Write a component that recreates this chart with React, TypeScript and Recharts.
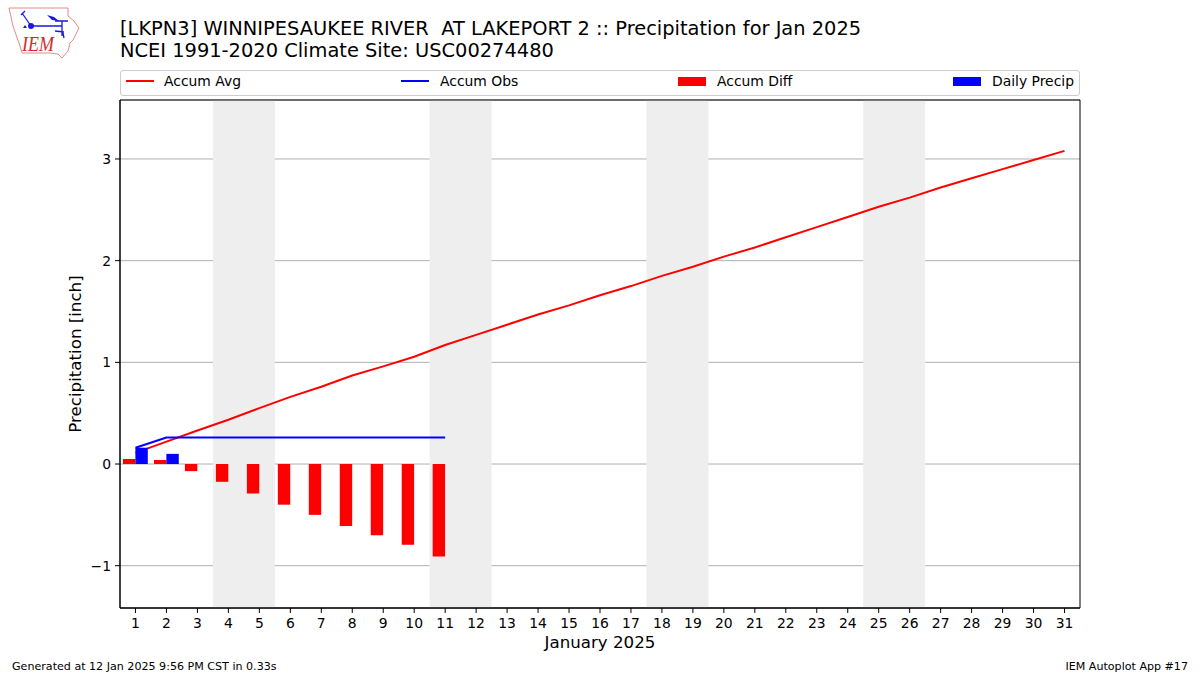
import React from "react";
import { ComposedChart, Bar, Line, XAxis, YAxis, CartesianGrid, ReferenceArea, Legend, Label } from "recharts";

const days = [1,2,3,4,5,6,7,8,9,10,11,12,13,14,15,16,17,18,19,20,21,22,23,24,25,26,27,28,29,30,31];
const accumAvg = [0.11,0.22,0.33,0.435,0.55,0.66,0.76,0.87,0.96,1.055,1.17,1.27,1.37,1.47,1.56,1.66,1.75,1.85,1.94,2.04,2.13,2.23,2.33,2.43,2.53,2.62,2.72,2.81,2.9,2.99,3.08];
const accumObs = [0.16,0.26,0.26,0.26,0.26,0.26,0.26,0.26,0.26,0.26,0.26];
const accumDiff = [0.05,0.04,-0.07,-0.175,-0.29,-0.4,-0.5,-0.61,-0.7,-0.795,-0.91];
const dailyPrecip = [0.16,0.1];
const weekends: [number, number][] = [[3.5,5.5],[10.5,12.5],[17.5,19.5],[24.5,26.5]];
const yTicks = [-1,0,1,2,3];
const titleLines = ["[LKPN3] WINNIPESAUKEE RIVER  AT LAKEPORT 2 :: Precipitation for Jan 2025", "NCEI 1991-2020 Climate Site: USC00274480"];
const xLabel = "January 2025";
const yLabel = "Precipitation [inch]";
const footerLeft = "Generated at 12 Jan 2025 9:56 PM CST in 0.33s";
const footerRight = "IEM Autoplot App #17";

const X_DOMAIN: [number, number] = [0.5, 31.5];
const Y_DOMAIN: [number, number] = [-1.416, 3.58];

const rows = days.map((day, i) => ({
  day,
  avg: accumAvg[i],
  obs: accumObs[i] ?? null,
  diff: accumDiff[i] ?? null,
  daily: dailyPrecip[i] ?? null,
}));

const FONT = "'DejaVu Sans', sans-serif";
const legendItems = [
  { name: "Accum Avg", color: "#ff0000", kind: "line", swatch: 5, text: 43 },
  { name: "Accum Obs", color: "#0000ff", kind: "line", swatch: 280, text: 319 },
  { name: "Accum Diff", color: "#ff0000", kind: "bar", swatch: 557, text: 596 },
  { name: "Daily Precip", color: "#0000ff", kind: "bar", swatch: 832, text: 871 },
];

const LegendBox = () => (
  <div style={{ position: "relative", width: 958, height: 24, border: "1px solid #cccccc", borderRadius: 3, background: "#fff", fontFamily: FONT, fontSize: 13.9, color: "#000" }}>
    {legendItems.map((it) => (
      <React.Fragment key={it.name}>
        <div style={{ position: "absolute", left: it.swatch, width: 28, top: it.kind === "line" ? 9 : 6, height: it.kind === "line" ? 2 : 9, background: it.color }} />
        <div style={{ position: "absolute", left: it.text, top: 2, whiteSpace: "pre", lineHeight: "17px" }}>{it.name}</div>
      </React.Fragment>
    ))}
  </div>
);

const Logo = () => (
  <svg width={90} height={62} style={{ position: "absolute", left: 0, top: 0 }}>
    <path d="M9 8 L68 8 L68 16 L74 21 L79 28 L73 40 L70 43 L68 51 L62 58 L58 54 L50 53 L22 53 L20 46 L13 26 Z" fill="#fff" stroke="#e58a8a" strokeWidth={1} />
    <path d="M31 26 L62 26 M62 21 L62 36 M55 21 L68 21 M22 13 L31 26 M21 15 L25 11 M55 31 L64 32 M63 33 L64 38" stroke="#1a1ad6" strokeWidth={1.3} fill="none" />
    <path d="M47 15 L54 17 L59 21 L52 20 Z" fill="#1a1ad6" />
    <circle cx={31} cy={26} r={3} fill="#1a1ad6" />
    <path d="M23 28 L25 25 L27 28 Z" fill="#1a1ad6" />
    <text x={22} y={51} textLength={32} lengthAdjust="spacingAndGlyphs" fontFamily="'Liberation Serif', serif" fontStyle="italic" fontSize={20} fill="#d42a2a">IEM</text>
  </svg>
);

export default function App() {
  return (
    <div style={{ position: "absolute", left: 0, top: 0, width: 1200, height: 675, background: "#fff", overflow: "hidden", fontFamily: FONT }}>
      <Logo />
      <div style={{ position: "absolute", left: 120, top: 17.6, fontSize: 19.42, lineHeight: "22px", whiteSpace: "pre", color: "#000" }}>
        {titleLines.map((t) => <div key={t}>{t}</div>)}
      </div>
      <ComposedChart width={1200} height={675} data={rows} barSize={12.4} barGap={0} margin={{ top: 75, right: 120, bottom: 0, left: 60 }} style={{ position: "absolute", left: 0, top: 0 }}>
        <Legend verticalAlign="top" content={<LegendBox />} wrapperStyle={{ top: 70, left: 120, width: 960, height: 25 }} />
        {weekends.map(([a, b]) => (
          <ReferenceArea key={a} x1={a} x2={b} fill="#eeeeee" fillOpacity={1} stroke="none" />
        ))}
        <CartesianGrid vertical={false} stroke="#b0b0b0" strokeWidth={1} />
        <XAxis dataKey="day" type="number" domain={X_DOMAIN} ticks={days} interval={0} height={67} stroke="#000" tickLine={{ stroke: "#000" }} tickSize={5} tickMargin={5} tick={{ fontSize: 13.9, fill: "#000", fontFamily: FONT }}>
          <Label value={xLabel} position="insideTop" offset={28} style={{ fontSize: 16.67, fill: "#000", fontFamily: FONT }} />
        </XAxis>
        <YAxis type="number" domain={Y_DOMAIN} ticks={yTicks} width={60} stroke="#000" tickLine={{ stroke: "#000" }} tickSize={5} tickMargin={4} tickFormatter={(v: number) => (v < 0 ? `\u2212${-v}` : `${v}`)} tick={{ fontSize: 13.9, fill: "#000", fontFamily: FONT }}>
          <Label value={yLabel} angle={-90} position="insideLeft" offset={15} style={{ fontSize: 16.67, fill: "#000", fontFamily: FONT, textAnchor: "middle" }} />
        </YAxis>
        <Line dataKey="avg" stroke="#ff0000" strokeWidth={2} dot={false} isAnimationActive={false} zIndex={300} />
        <Line dataKey="obs" stroke="#0000ff" strokeWidth={2} dot={false} isAnimationActive={false} connectNulls={false} zIndex={300} />
        <Bar dataKey="diff" fill="#ff0000" isAnimationActive={false} zIndex={400} />
        <Bar dataKey="daily" fill="#0000ff" isAnimationActive={false} zIndex={400} />
        <ReferenceArea x1={X_DOMAIN[0]} x2={X_DOMAIN[1]} y1={Y_DOMAIN[0]} y2={Y_DOMAIN[1]} fill="none" stroke="#000" strokeWidth={1} />
      </ComposedChart>
      <div style={{ position: "absolute", left: 12, top: 660, fontSize: 11.1, lineHeight: "13px", color: "#000" }}>{footerLeft}</div>
      <div style={{ position: "absolute", right: 12, top: 660, fontSize: 11.1, lineHeight: "13px", color: "#000" }}>{footerRight}</div>
    </div>
  );
}
